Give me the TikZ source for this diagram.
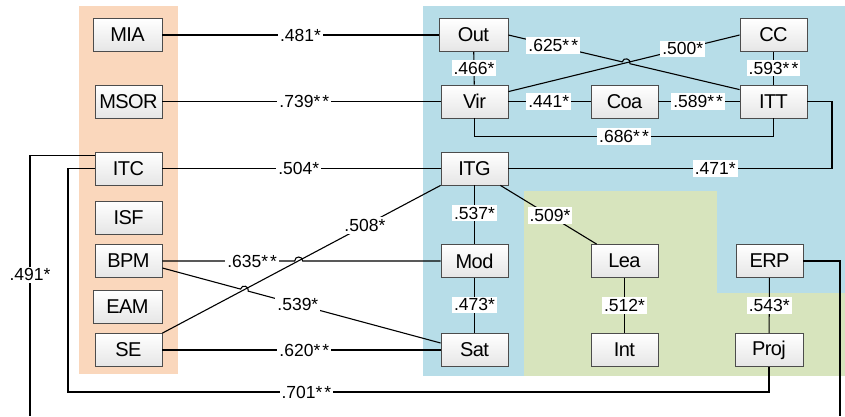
\documentclass[tikz,border=0pt]{standalone}
\usepackage{fontspec}
\setmainfont{Liberation Sans}
\newfontfamily\boxfont[LetterSpace=-3]{Liberation Sans}
\usetikzlibrary{calc}
\definecolor{bgorange}{HTML}{FAD7BC}
\definecolor{bgblue}{HTML}{B7DDE8}
\definecolor{bggreen}{HTML}{D7E4BD}
\tikzset{
  var/.style={draw=black!70, line width=0.8pt, top color=white, bottom color=black!10,
    minimum width=67pt, minimum height=33pt, inner sep=0pt,
    font=\boxfont\fontsize{20}{22}\selectfont},
  lbl/.style={fill=white, inner sep=2pt, font=\fontsize{17.5}{19}\selectfont},
  conn/.style={line width=1.1pt, black},
}
\newcommand{\dstar}{*\kern2pt*}
\begin{document}
\begin{tikzpicture}[x=1pt,y=-1pt]
\useasboundingbox (0,0) rectangle (845,416);
% backgrounds
\fill[bgorange] (79,6) rectangle (178,374);
\fill[bgblue] (423,6) rectangle (845,376);
\fill[bggreen] (524,191) rectangle (717,376);
\fill[bggreen] (717,293) rectangle (845,376);

% nodes
\node[var, minimum width=69pt] (MIA) at (127.5,35) {MIA};
\node[var] (MSOR) at (128.5,101.5) {MSOR};
\node[var] (ITC) at (128.5,168.5) {ITC};
\node[var] (ISF) at (128.5,217.5) {ISF};
\node[var] (BPM) at (128.5,261) {BPM};
\node[var, minimum width=69pt] (EAM) at (127.5,307) {EAM};
\node[var] (SE) at (128.5,350) {SE};
\node[var, minimum width=69pt] (Out) at (473.5,35) {Out};
\node[var] (Vir) at (474.5,101.5) {Vir};
\node[var] (ITG) at (474.5,168.5) {ITG};
\node[var] (Mod) at (474.5,261) {Mod};
\node[var] (Sat) at (474.5,350) {Sat};
\node[var] (Coa) at (624.5,101.5) {Coa};
\node[var] (CC) at (773.5,35) {CC};
\node[var] (ITT) at (773.5,101.5) {ITT};
\node[var] (Lea) at (624.5,261) {Lea};
\node[var] (Int) at (624.5,350) {Int};
\node[var] (ERP) at (769.5,261) {ERP};
\node[var, minimum width=68pt] (Proj) at (769,350) {Proj};

% helper coordinates
\coordinate (e1) at (30,416);
\coordinate (e2) at (840,416);
\coordinate (c1) at (68,392);
\coordinate (c2) at (832,168.5);
\coordinate (bpmS) at ($(BPM.east)+(0,7)$);
\coordinate (satN) at ($(Sat.west)+(0,-7)$);
\coordinate (seS) at (SE.north east);
\coordinate (itgS) at (ITG.south west);
\coordinate (outS) at (Out.east);
\coordinate (ittN) at ($(ITT.north west)+(0,5)$);
\coordinate (virS) at ($(Vir.north east)+(0,7)$);
% hop points
\coordinate (h1a) at (294.7,261);
\coordinate (h1b) at (302.7,261);
\coordinate (h2a) at ($(bpmS)!0.2808!(satN)$);
\coordinate (h2b) at ($(bpmS)!0.3085!(satN)$);
\coordinate (h3a) at ($(outS)!0.4923!(ittN)$);
\coordinate (h3b) at ($(outS)!0.5258!(ittN)$);

% left-to-right connectors
\draw[conn] (MIA.east) -- node[lbl]{.481*} (Out.west);
\draw[conn] (MSOR.east) -- node[lbl, pos=0.51]{.739\dstar} (Vir.west);
\draw[conn] (ITC.east) -- node[lbl, pos=0.49]{.504*} (ITG.west);
\draw[conn] (SE.east) -- node[lbl, pos=0.51]{.620\dstar} (Sat.west);
\draw[conn] (seS) -- node[lbl, pos=0.728]{.508*} (itgS);
\draw[conn] (BPM.east) -- node[lbl, pos=0.678]{.635\dstar} (h1a)
  .. controls +(0,-5.3) and +(0,-5.3) .. (h1b) -- (Mod.west);
\draw[conn] (bpmS) -- (h2a) .. controls +(1.38,-5.12) and +(1.38,-5.12) .. (h2b)
  -- node[lbl, pos=0.258]{.539*} (satN);
\draw[conn] ($(ITC.north west)+(0,4)$) -| node[lbl, pos=0.729]{.491*} (e1);
\draw[conn] (ITC.west) -| (c1) -| node[lbl, pos=0.17]{.701\dstar} (Proj.south);

% blue region connectors
\draw[conn] (Out) -- node[lbl]{.466*} (Vir);
\draw[conn] (virS) -- node[lbl, pos=0.754]{.500*} (CC.west);
\draw[conn] (outS) -- node[lbl, pos=0.394]{.625\dstar} (h3a)
  .. controls +(1.22,-5.16) and +(1.22,-5.16) .. (h3b) -- (ittN);
\draw[conn] (Vir) -- node[lbl, pos=0.49]{.441*} (Coa);
\draw[conn] (Coa) -- node[lbl, pos=0.49]{.589\dstar} (ITT);
\draw[conn] (CC) -- node[lbl]{.593\dstar} (ITT);
\draw[conn] (Vir.south) -- ++(0,18) -| node[lbl, pos=0.25]{.686\dstar} (ITT.south);
\draw[conn] (ITT.east) -| (c2) -- node[lbl, pos=0.361]{.471*} (ITG.east);
\draw[conn] (ITG) -- node[lbl, pos=0.47]{.537*} (Mod);
\draw[conn] ($(ITG.south east)+(-8,0)$) -- node[lbl, pos=0.515]{.509*} ($(Lea.north west)+(6,0)$);
\draw[conn] (Mod) -- node[lbl, pos=0.49]{.473*} (Sat);
\draw[conn] (Lea) -- node[lbl]{.512*} (Int);
\draw[conn] (ERP) -- node[lbl]{.543*} (Proj);
\draw[conn] (ERP.east) -| (e2);
\end{tikzpicture}
\end{document}
